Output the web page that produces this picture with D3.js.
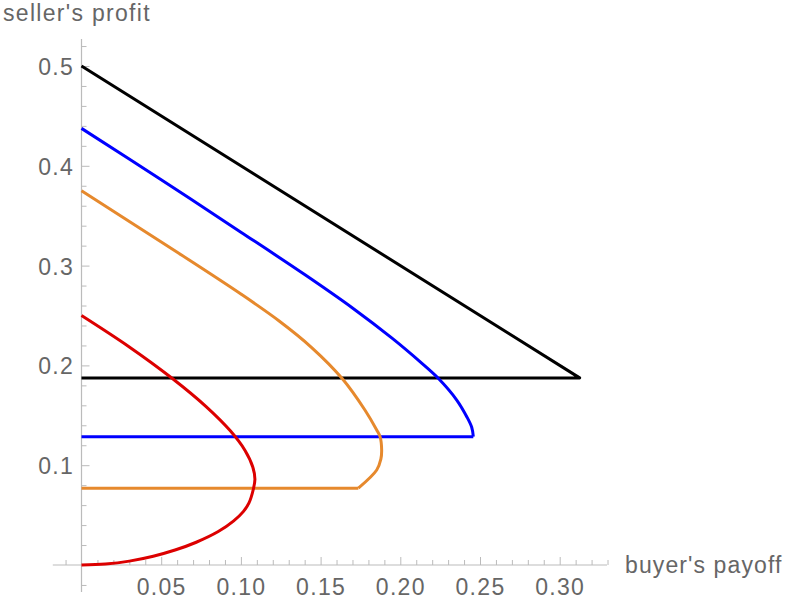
<!DOCTYPE html>
<html>
<head>
<meta charset="utf-8">
<script src="https://cdn.jsdelivr.net/npm/d3@7"></script>
<style>
  body { margin: 0; background: #fff; }
  text { font-family: "Liberation Sans", Arial, sans-serif; fill: #666; }
</style>
</head>
<body>
<div id="chart"></div>
<script>
// chart size
const width = 788;
const height = 605;

// tick labels
const xTickValues = [0.05, 0.10, 0.15, 0.20, 0.25, 0.30];
const yTickValues = [0.1, 0.2, 0.3, 0.4, 0.5];

// black: triangle (buyer's payoff, seller's profit)
const blackPayoff = [0, 0.3125, 0];
const blackProfit = [0.5, 0.1875, 0.1875];

// blue curve + its flat bottom
const bluePayoff = [0, 0.05, 0.10, 0.14, 0.17, 0.195, 0.2125, 0.2238, 0.2354, 0.2417, 0.2448, 0.2458];
const blueProfit = [0.4375, 0.386, 0.3335, 0.291, 0.2575, 0.227, 0.2035, 0.1871, 0.1653, 0.1486, 0.138, 0.1286];
const blueFloor = 0.1286;

// orange curve, ending at the kink, then flat bottom
const orangePayoff = [0, 0.0603, 0.10, 0.124, 0.1444, 0.1634, 0.1778, 0.1852, 0.1873, 0.1883, 0.1878, 0.1852, 0.1737];
const orangeProfit = [0.375, 0.3131, 0.2715, 0.2445, 0.2179, 0.1871, 0.1553, 0.1353, 0.1286, 0.1152, 0.106, 0.0952, 0.077];

// red curve
const redPayoff = [0, 0.03, 0.057, 0.078, 0.0935, 0.1025, 0.1075, 0.1088, 0.1078, 0.105, 0.1015, 0.0955, 0.0858, 0.072, 0.0587, 0.045, 0.03, 0.015, 0];
const redProfit = [0.25, 0.2185, 0.1869, 0.159, 0.1342, 0.115, 0.098, 0.086, 0.0759, 0.0619, 0.0535, 0.0442, 0.0335, 0.0228, 0.015, 0.0088, 0.0039, 0.001, 0];

const zip = (us, ps) => us.map((u, i) => [u, ps[i]]);

// scales
const x = d3.scaleLinear().domain([0, 0.3]).range([81.5, 559.7]);
const y = d3.scaleLinear().domain([0, 0.5]).range([565, 66]);

const svg = d3.select("#chart").append("svg")
  .attr("width", width)
  .attr("height", height);

// axis lines
svg.append("line")
  .attr("x1", x(-0.018)).attr("x2", x(0.3297))
  .attr("y1", y(0)).attr("y2", y(0))
  .attr("stroke", "#bbb").attr("stroke-width", 1.2);
svg.append("line")
  .attr("x1", x(0)).attr("x2", x(0))
  .attr("y1", y(-0.027)).attr("y2", y(0.527))
  .attr("stroke", "#bbb").attr("stroke-width", 1.2);

// minor ticks
const xMinor = d3.range(-1, 34).map(d => d / 100).filter(d => Math.round(d * 100) % 5 !== 0);
const yMinor = d3.range(-1, 27).map(d => d / 50).filter(d => Math.round(d * 50) % 5 !== 0);

const xAxisMinor = d3.axisBottom(x).tickValues(xMinor).tickSizeInner(-5).tickSizeOuter(0).tickFormat("");
const xAxisMajor = d3.axisBottom(x).tickValues(xTickValues).tickSizeInner(-8).tickSizeOuter(0)
  .tickPadding(30).tickFormat(d3.format(".2f"));
const yAxisMinor = d3.axisLeft(y).tickValues(yMinor).tickSizeInner(-5).tickSizeOuter(0).tickFormat("");
const yAxisMajor = d3.axisLeft(y).tickValues(yTickValues).tickSizeInner(-8).tickSizeOuter(0)
  .tickPadding(7.5).tickFormat(d3.format(".1f"));

function styleAxis(g) {
  g.select(".domain").remove();
  g.selectAll(".tick line").attr("stroke", "#bbb").attr("stroke-width", 1);
  g.selectAll(".tick text")
    .attr("fill", "#666")
    .style("font-size", "23px")
    .style("letter-spacing", "1.3px")
    .attr("font-family", null);
}

svg.append("g").attr("transform", `translate(0,${y(0)})`).call(xAxisMinor).call(styleAxis);
svg.append("g").attr("transform", `translate(0,${y(0)})`).call(xAxisMajor).call(styleAxis)
  .selectAll(".tick text").attr("dy", null);
svg.append("g").attr("transform", `translate(${x(0)},0)`).call(yAxisMinor).call(styleAxis);
svg.append("g").attr("transform", `translate(${x(0)},0)`).call(yAxisMajor).call(styleAxis)
  .selectAll(".tick text").attr("dy", "0.37em");

// axis titles
svg.append("text")
  .attr("x", 3).attr("y", 21)
  .style("font-size", "23px").style("letter-spacing", "1.3px")
  .text("seller's profit");
svg.append("text")
  .attr("x", 625).attr("y", 573)
  .style("font-size", "23px").style("letter-spacing", "1.1px")
  .text("buyer's payoff");

// lines
const smooth = d3.line().x(d => x(d[0])).y(d => y(d[1])).curve(d3.curveCatmullRom.alpha(0.5));
const straight = d3.line().x(d => x(d[0])).y(d => y(d[1]));

function drawPath(gen, pts, color) {
  svg.append("path")
    .attr("d", gen(pts))
    .attr("fill", "none")
    .attr("stroke", color)
    .attr("stroke-width", 3)
    .attr("stroke-linejoin", "round");
}

// black triangle
drawPath(straight, zip(blackPayoff, blackProfit), "#000");

// blue
drawPath(smooth, zip(bluePayoff, blueProfit), "#0000ff");
drawPath(straight, [[bluePayoff[bluePayoff.length - 1], blueFloor], [0, blueFloor]], "#0000ff");

// orange
const orangePts = zip(orangePayoff, orangeProfit);
const orangeEnd = orangePts[orangePts.length - 1];
drawPath(smooth, orangePts, "#e6892d");
drawPath(straight, [orangeEnd, [0, orangeEnd[1]]], "#e6892d");

// red
drawPath(smooth, zip(redPayoff, redProfit), "#dc0000");
</script>
</body>
</html>
